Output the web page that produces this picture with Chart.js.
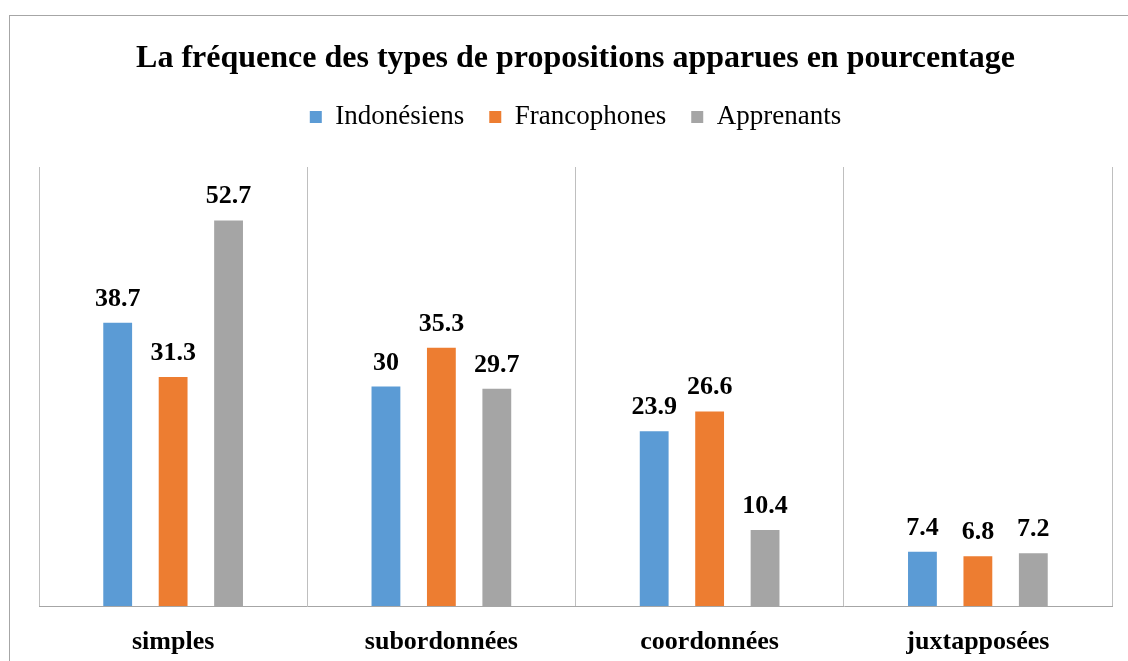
<!DOCTYPE html>
<html>
<head>
<meta charset="utf-8">
<script src="https://cdn.jsdelivr.net/npm/chart.js@4.4.1/dist/chart.umd.min.js"></script>
<style>
  html, body { margin: 0; padding: 0; background: #fff; }
  #wrap { width: 1128px; height: 661px; }
</style>
</head>
<body>
<div id="wrap"><canvas id="bar-chart" width="1128" height="661"></canvas></div>
<script>
// data
const categories = ['simples', 'subordonnées', 'coordonnées', 'juxtapposées'];
const indonesiens = [38.7, 30, 23.9, 7.4];
const francophones = [31.3, 35.3, 26.6, 6.8];
const apprenants = [52.7, 29.7, 10.4, 7.2];
const seriesNames = ['Indonésiens', 'Francophones', 'Apprenants'];

const serif = "'Liberation Serif', 'Times New Roman', serif";

// grey frame around the whole chart (like the Excel chart border)
const frame = {
    id: 'frame',
    beforeDraw(chart) {
        const c = chart.ctx;
        c.save();
        c.fillStyle = '#fff';
        c.fillRect(0, 0, chart.width, chart.height);
        c.strokeStyle = '#a6a6a6';
        c.lineWidth = 1;
        c.strokeRect(9.5, 15.5, chart.width + 20, chart.height + 20);
        c.restore();
    }
};

// values above the bars
const valeurs = {
    id: 'valeurs',
    afterDatasetsDraw(chart) {
        const c = chart.ctx;
        c.save();
        c.font = "bold 26px " + serif;
        c.fillStyle = '#000';
        c.textAlign = 'center';
        c.textBaseline = 'alphabetic';
        chart.data.datasets.forEach((ds, i) => {
            chart.getDatasetMeta(i).data.forEach((bar, j) => {
                c.fillText(String(ds.data[j]), bar.x, bar.y - 17);
            });
        });
        c.restore();
    }
};

var ctx = document.getElementById('bar-chart').getContext('2d');
var myChart = new Chart(ctx, {
    type: 'bar',
    data: {
        labels: categories,
        datasets: [
            { label: seriesNames[0], data: indonesiens, backgroundColor: '#5b9bd5' },
            { label: seriesNames[1], data: francophones, backgroundColor: '#ed7d31' },
            { label: seriesNames[2], data: apprenants, backgroundColor: '#a5a5a5' }
        ]
    },
    options: {
        responsive: false,
        animation: false,
        categoryPercentage: 0.62,
        barPercentage: 0.52,
        layout: { padding: { left: 39, right: 16, top: 0, bottom: 0 } },
        plugins: {
            title: {
                display: true,
                text: 'La fréquence des types de propositions apparues en pourcentage',
                color: '#000',
                font: { family: serif, size: 32, weight: 'bold' },
                padding: { top: 40, bottom: 0 }
            },
            legend: {
                display: true,
                labels: {
                    color: '#000',
                    font: { family: serif, size: 27 },
                    boxWidth: 12,
                    boxHeight: 12,
                    padding: 25
                }
            },
            tooltip: { enabled: false }
        },
        scales: {
            x: {
                grid: { display: true, offset: true, color: '#bfbfbf', drawTicks: false },
                border: { display: true, color: '#a6a6a6' },
                ticks: {
                    color: '#000',
                    font: { family: serif, size: 26, weight: 'bold' },
                    padding: 21
                },
                afterFit(scale) { scale.height = 55; }
            },
            xTop: {
                type: 'category',
                position: 'top',
                labels: categories,
                grid: { display: false },
                border: { display: false },
                ticks: { display: false },
                afterFit(scale) { scale.height = 26.6; }
            },
            y: {
                display: false,
                min: 0,
                max: 60
            }
        }
    },
    plugins: [frame, valeurs]
});
</script>
</body>
</html>
